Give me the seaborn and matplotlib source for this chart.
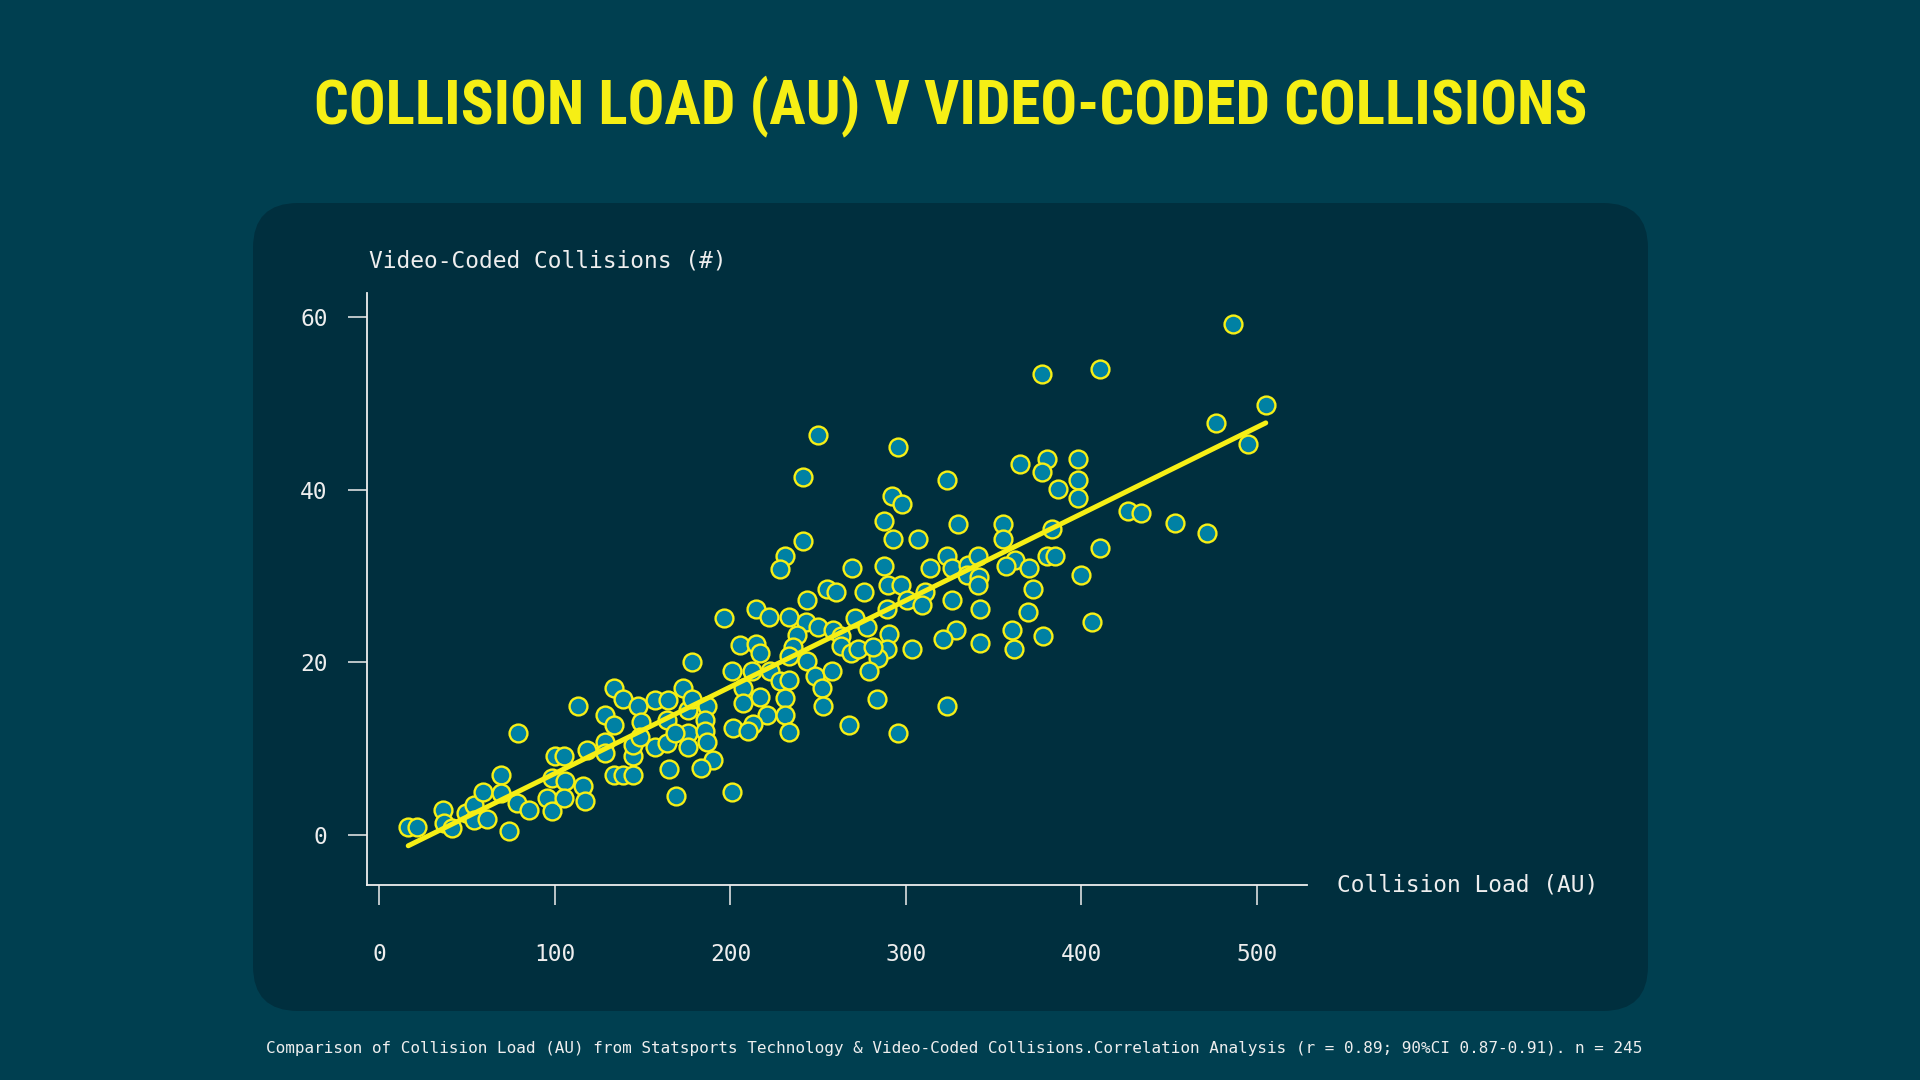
import numpy as np
import pandas as pd
import matplotlib
matplotlib.use("Agg")
import matplotlib.pyplot as plt
from matplotlib.patches import FancyBboxPatch
import seaborn as sns

# couleurs
fond = "#003f50"
panneau = "#002f3e"
jaune = "#f6ef15"
bleu = "#0081a4"
blanc = "#eeeeee"

# donnees (charge AU, collisions video)
charge = [16.4, 21.6, 36.4, 36.9, 41.1, 49.3, 54.0, 54.0, 59.2, 61.4, 69.0, 69.0, 78.2, 73.8, 79.1,
          85.2, 95.3, 98.1, 98.1, 100.0, 105.3, 105.7, 105.3, 115.8, 117.1, 113.3, 118.4, 128.5,
          128.5, 128.5, 133.8, 138.9, 133.8, 133.8, 138.9, 144.6, 144.6, 144.6, 147.5, 149.0, 157.0,
          164.2, 164.0, 157.0, 164.0, 165.0, 169.0, 172.8, 176.0, 176.0, 176.0, 178.0,
          241.1, 231.0, 228.2, 269.0, 254.8, 260.1, 243.4, 214.5, 222.1, 233.5, 196.5, 243.0, 250.0,
          258.6, 271.0, 238.0, 263.0, 205.4, 214.5, 216.8, 235.8, 233.5, 263.0, 268.7, 272.8, 177.9,
          200.7, 212.1, 222.5, 243.4, 248.1, 257.7, 207.0, 207.0, 216.8, 228.2, 233.5, 231.0, 220.6,
          231.0, 252.0, 252.9, 213.0, 201.6, 210.0, 233.5, 267.7, 190.2, 183.0, 200.7,
          186.4, 185.5, 185.5, 186.4, 168.4, 148.4,
          377.3, 250.0, 295.6, 241.1, 323.2, 365.0, 380.2, 377.3, 386.4, 291.8, 297.5, 287.5, 292.8,
          307.0, 329.8, 355.1, 355.1, 383.0,
          287.5, 290.0, 297.0, 276.0, 313.7, 323.2, 326.0, 335.5, 334.6, 341.2, 341.8, 341.2, 362.1,
          356.8, 370.3, 380.2, 385.0, 372.5, 369.7, 300.4, 310.8, 309.0, 289.0, 277.6, 290.5, 326.0,
          342.2, 360.2, 361.5, 377.9, 328.5, 321.3, 342.2, 303.6, 289.0, 284.2, 281.4, 279.1, 283.7,
          295.6, 323.2,
          486.5, 410.5, 505.0, 476.6, 494.7, 398.2, 398.2, 398.2, 426.7, 433.7, 453.3, 471.7, 410.5,
          399.5, 405.8]
collisions = [0.9, 0.9, 2.9, 1.4, 0.8, 2.5, 3.5, 1.7, 5.0, 1.9, 7.0, 4.9, 3.7, 0.5, 11.8,
              2.9, 4.3, 2.8, 6.6, 9.1, 9.1, 6.2, 4.3, 5.7, 3.9, 14.9, 9.8, 10.8,
              9.5, 13.9, 17.0, 15.8, 12.7, 7.0, 7.0, 7.0, 9.1, 10.4, 14.9, 13.1, 15.6,
              15.6, 13.3, 10.2, 10.6, 7.6, 4.5, 17.0, 14.5, 11.8, 10.2, 15.8,
              34.1, 32.3, 30.8, 30.9, 28.5, 28.2, 27.2, 26.2, 25.3, 25.3, 25.1, 24.7, 24.1,
              23.8, 25.1, 23.2, 23.0, 22.0, 22.1, 21.1, 21.8, 20.7, 21.9, 21.1, 21.6, 20.0,
              19.0, 19.0, 19.0, 20.1, 18.4, 19.0, 17.0, 15.3, 16.0, 17.8, 18.0, 15.9, 13.9,
              13.9, 17.0, 14.9, 12.9, 12.4, 12.0, 11.9, 12.7, 8.7, 7.7, 5.0,
              15.0, 13.3, 12.0, 10.8, 11.8, 11.4,
              53.4, 46.3, 45.0, 41.5, 41.1, 43.0, 43.6, 42.1, 40.1, 39.3, 38.3, 36.4, 34.3,
              34.3, 36.0, 36.0, 34.3, 35.4,
              31.2, 29.0, 29.0, 28.2, 30.9, 32.3, 30.9, 31.3, 30.1, 32.3, 29.9, 29.0, 31.9,
              31.2, 30.9, 32.3, 32.3, 28.5, 25.8, 27.2, 28.2, 26.7, 26.2, 24.1, 23.3, 27.2,
              26.2, 23.7, 21.6, 23.1, 23.7, 22.7, 22.2, 21.6, 21.6, 20.5, 21.8, 19.0, 15.7,
              11.8, 14.9,
              59.2, 54.0, 49.8, 47.7, 45.3, 43.6, 41.1, 39.0, 37.5, 37.3, 36.2, 35.0, 33.3,
              30.1, 24.7]

x_ticks = [0, 100, 200, 300, 400, 500]
y_ticks = [0, 20, 40, 60]

titre = "COLLISION LOAD (AU) V VIDEO-CODED COLLISIONS"
label_x = "Collision Load (AU)"
label_y = "Video-Coded Collisions (#)"
note = ("Comparison of Collision Load (AU) from Statsports Technology & Video-Coded Collisions."
        "Correlation Analysis (r = 0.89; 90%CI 0.87-0.91). n = 245")

df = pd.DataFrame({"charge": charge, "collisions": collisions})

sns.set_theme(style="ticks")
plt.rcParams["font.family"] = ["DejaVu Sans Mono", "DejaVu Sans"]

fig = plt.figure(figsize=(19.2, 10.8), dpi=100, facecolor=fond)

# panneau arrondi (derriere les axes)
fig.patches.append(FancyBboxPatch((2.53, 0.69), 13.95, 8.08,
                                  boxstyle="round,pad=0,rounding_size=0.45",
                                  transform=fig.dpi_scale_trans, facecolor=panneau,
                                  edgecolor="none", zorder=-1, figure=fig))

ax = fig.add_axes([367 / 1920, 195 / 1080, 940 / 1920, 592 / 1080])
ax.patch.set_alpha(0)

sns.regplot(data=df, x="charge", y="collisions", ci=None, ax=ax, color=bleu,
            scatter_kws=dict(s=165, edgecolor=jaune, linewidths=1.7, alpha=1, zorder=3),
            line_kws=dict(color=jaune, lw=3.6, zorder=4))

ax.set_xlim(-7.1, 528.5)
ax.set_ylim(-5.8, 62.8)
ax.set_xticks(x_ticks)
ax.set_yticks(y_ticks)
sns.despine(ax=ax)
for s in ["left", "bottom"]:
    ax.spines[s].set_color(blanc)
    ax.spines[s].set_linewidth(1.3)
ax.tick_params(axis="x", direction="out", length=14.4, width=1.1, pad=27.5,
               colors=blanc, labelsize=16.5)
ax.tick_params(axis="y", direction="out", length=14, width=1.1, pad=14.4,
               colors=blanc, labelsize=16.5)

ax.set_xlabel(label_x, color=blanc, fontsize=16.5, ha="left", va="center")
ax.xaxis.set_label_coords(1.032, 0.0)
ax.set_ylabel(label_y, color=blanc, fontsize=16.5, rotation=0, ha="left", va="center")
ax.yaxis.set_label_coords(0.002, 1.054)

# titre : police etroite
fig.text(951 / 1920, 1 - 107 / 1080, titre, ha="center", va="center", color=jaune,
         fontsize=44, fontweight="bold", family=["Roboto Condensed", "DejaVu Sans"])
fig.text(954 / 1920, 1 - 1048 / 1080, note, ha="center", va="center", color=blanc,
         fontsize=11.5)

plt.savefig("out.png", dpi=100, facecolor=fond)
